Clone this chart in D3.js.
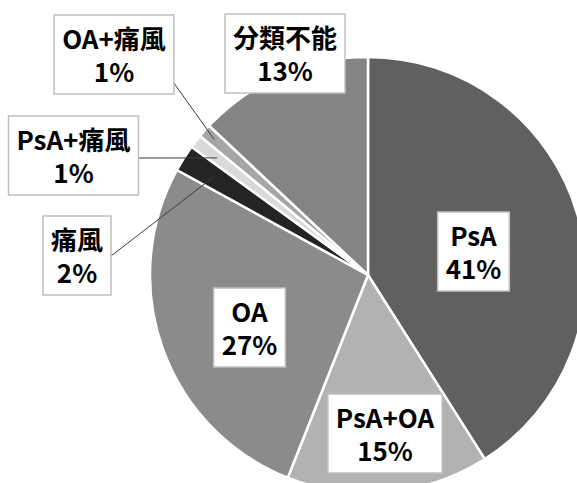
<!DOCTYPE html>
<html lang="ja">
<head>
<meta charset="UTF-8">
<title>Pie</title>
<style>
  body { margin: 0; background: #fff; }
  text { font-family: "Noto Sans CJK JP", "Noto Sans", sans-serif; font-weight: bold; }
</style>
</head>
<body>
<svg width="577" height="483" id="svg"></svg>
<script src="https://d3js.org/d3.v7.min.js"></script>
<script>
  // data, clockwise from 12 o'clock
  const categories = ["PsA", "PsA+OA", "OA", "痛風", "PsA+痛風", "OA+痛風", "分類不能"]
  const values = [41, 15, 27, 2, 1, 1, 13]
  const colors = ["#606060", "#b2b2b2", "#8b8b8b", "#242424", "#d9d9d9", "#a5a5a5", "#848484"]

  // label boxes: centre x, top y, leader (radius into slice, start offset on box right edge)
  const labelLayout = {
    "PsA": { cx: 473.5, top: 212 },
    "PsA+OA": { cx: 385, top: 394 },
    "OA": { cx: 249.5, top: 288 },
    "痛風": { cx: 77, top: 216, r: 183, dy: 40 },
    "PsA+痛風": { cx: 73.5, top: 116, r: 191, dy: 42 },
    "OA+痛風": { cx: 114, top: 15, r: 205, dy: 68 },
    "分類不能": { cx: 285, top: 14 }
  }

  const svg = d3.select("svg#svg")
  const cx = 368, cy = 275, radius = 218

  const data = categories.map((c, i) => ({ name: c, value: values[i], color: colors[i] }))
  const pie = d3.pie().value(d => d.value).sort(null)
  const arcs = pie(data)
  const arc = d3.arc().innerRadius(0).outerRadius(radius)

  const g = svg.append("g").attr("transform", `translate(${cx},${cy})`)
  g.selectAll("path").data(arcs).join("path")
    .attr("d", arc)
    .attr("fill", d => d.data.color)
    .attr("stroke", "#fff")
    .attr("stroke-width", 2.5)

  const boxH = 79
  const labels = svg.append("g")

  arcs.forEach(a => {
    const L = labelLayout[a.data.name]
    const grp = labels.append("g")
    const rect = grp.append("rect")
    const t = grp.append("text").attr("text-anchor", "middle")
      .attr("font-size", 26).attr("fill", "#000")
    const s1 = t.append("tspan").attr("x", L.cx).attr("y", L.top + 34).text(a.data.name)
    const s2 = t.append("tspan").attr("x", L.cx).attr("y", L.top + 67).text(a.data.value + "%")
    const w = Math.max(s1.node().getComputedTextLength(), s2.node().getComputedTextLength()) + 16
    rect.attr("x", L.cx - w / 2).attr("y", L.top).attr("width", w).attr("height", boxH)
      .attr("fill", "#fff").attr("stroke", "#c0c0c0").attr("stroke-width", 1.5)

    if (L.r) {
      const mid = (a.startAngle + a.endAngle) / 2
      const ex = cx + Math.sin(mid) * L.r
      const ey = cy - Math.cos(mid) * L.r
      labels.insert("line", ":first-child")
        .attr("x1", L.cx + w / 2).attr("y1", L.top + L.dy)
        .attr("x2", ex).attr("y2", ey)
        .attr("stroke", "#3a3a3a").attr("stroke-width", 1)
    }
  })
</script>
</body>
</html>
